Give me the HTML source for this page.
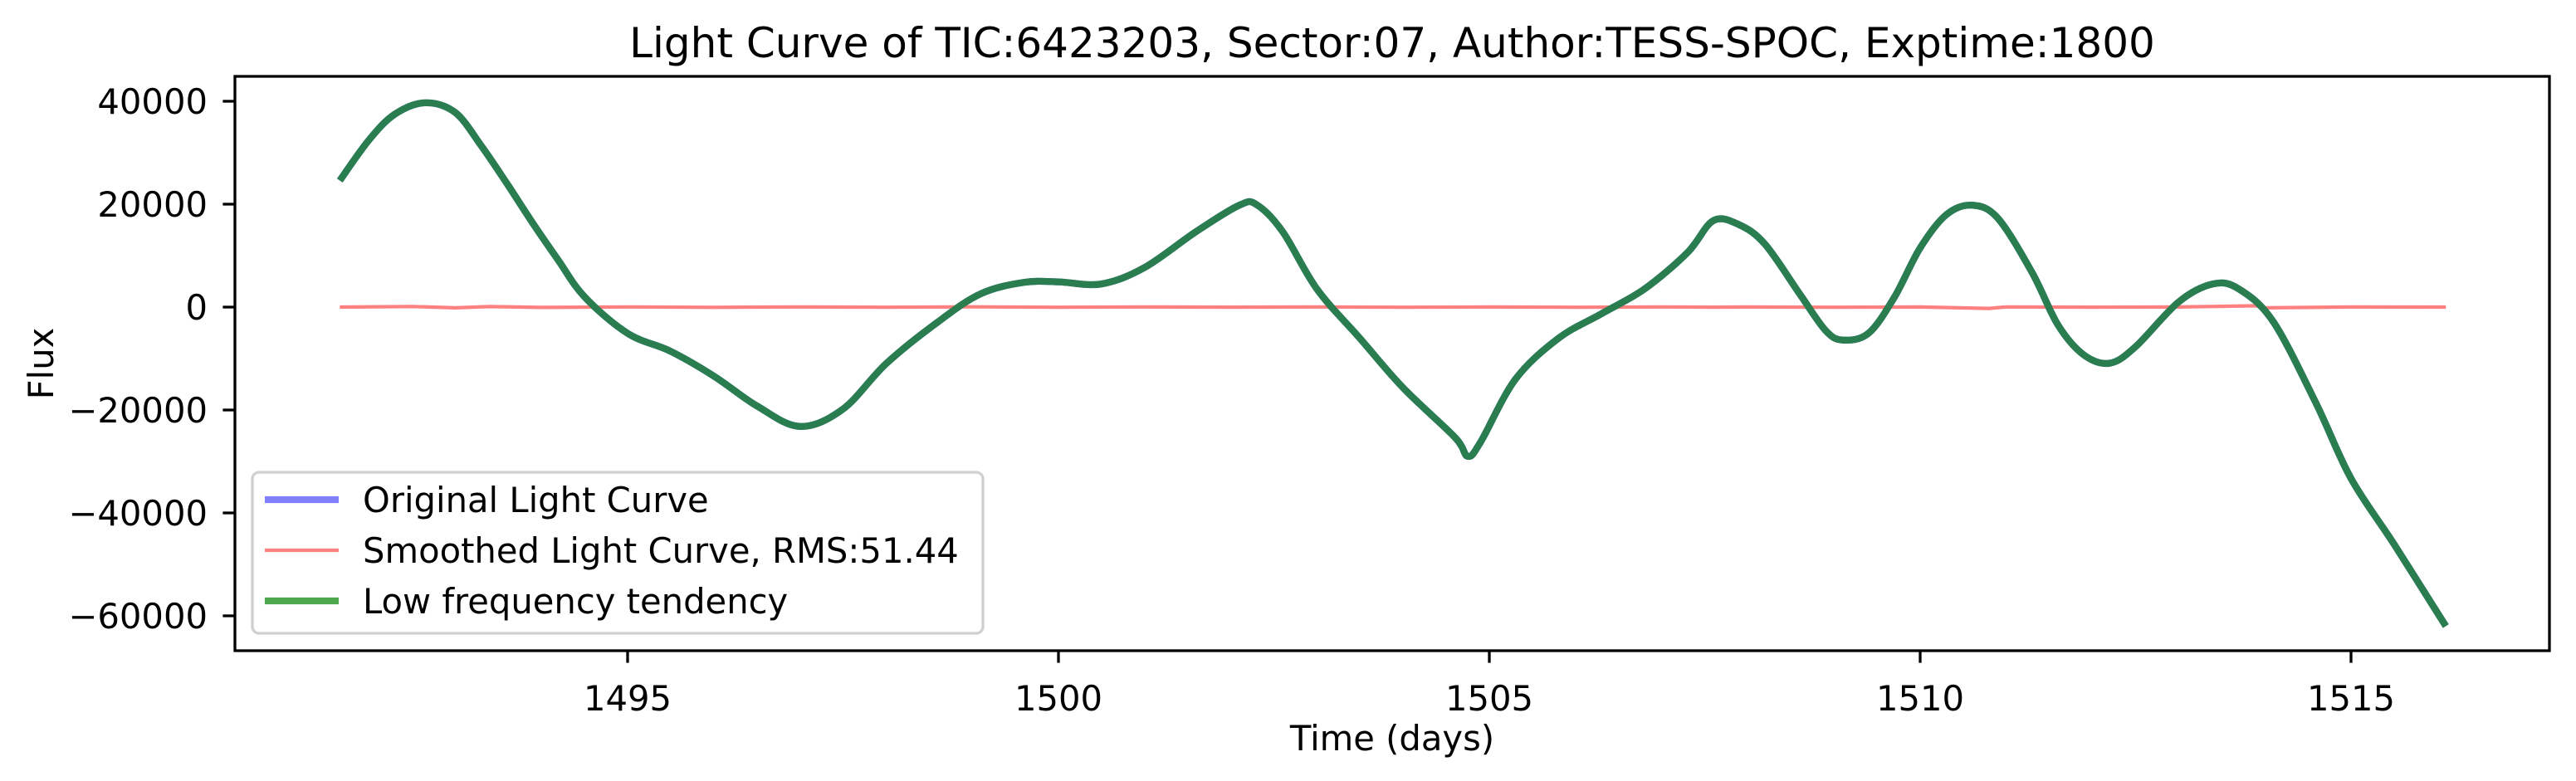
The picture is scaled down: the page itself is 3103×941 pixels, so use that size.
<!DOCTYPE html>
<html><head><meta charset="utf-8"><style>
html,body{margin:0;padding:0;background:#fff}
svg{display:block}
text{font-family:"DejaVu Sans","Liberation Sans",sans-serif;fill:#000}
</style></head><body>
<svg id="chart" width="3103" height="941" viewBox="0 0 3103 941" xmlns="http://www.w3.org/2000/svg">
<rect width="3103" height="941" fill="#fff"/>
<text x="1677" y="69" font-size="50" text-anchor="middle">Light Curve of TIC:6423203, Sector:07, Author:TESS-SPOC, Exptime:1800</text>
<g id="plot"></g>
<g id="xaxis"></g>
<g id="yaxis"></g>
<rect x="283" y="92" width="2788" height="692" fill="none" stroke="#000" stroke-width="3.3"/>
<text x="1677" y="904" font-size="41.7" text-anchor="middle">Time (days)</text>
<text x="0" y="0" font-size="41.7" text-anchor="middle" transform="translate(64,438) rotate(-90)">Flux</text>
<g>
<rect x="304" y="569" width="880" height="194" rx="8" fill="#fff" fill-opacity="0.8" stroke="#d0d0d0" stroke-width="3.3"/>
<line x1="319" y1="602" x2="408" y2="602" stroke="#8080ff" stroke-width="8.3"/>
<text x="437" y="617" font-size="41.7">Original Light Curve</text>
<line x1="319" y1="663" x2="408" y2="663" stroke="#ff8080" stroke-width="4.2"/>
<text x="437" y="678" font-size="41.7">Smoothed Light Curve, RMS:51.44</text>
<line x1="319" y1="724" x2="408" y2="724" stroke="#4ca64c" stroke-width="8.3"/>
<text x="437" y="739" font-size="41.7">Low frequency tendency</text>
</g>
</svg>
<script>
const xTicks = [1495, 1500, 1505, 1510, 1515];
const yTicks = [40000, 20000, 0, -20000, -40000, -60000];
const yTickLabels = ["40000", "20000", "0", "\u221220000", "\u221240000", "\u221260000"];
const trendTime = [1491.66,1492.0,1492.3,1492.65,1493.0,1493.3,1493.6,1493.9,1494.2,1494.5,1495.0,1495.5,1496.0,1496.5,1497.0,1497.5,1498.0,1498.6,1499.1,1499.6,1500.0,1500.5,1501.0,1501.6,1502.1,1502.3,1502.6,1503.0,1503.5,1504.0,1504.6,1504.75,1504.9,1505.3,1505.8,1506.3,1506.8,1507.3,1507.6,1507.9,1508.2,1508.6,1508.9,1509.1,1509.4,1509.7,1510.0,1510.3,1510.6,1510.9,1511.3,1511.6,1511.9,1512.2,1512.5,1513.0,1513.4,1513.7,1514.1,1514.6,1515.0,1515.5,1516.1];
const trendFlux = [24600,32500,37500,39700,37800,31400,24000,16300,9000,2000,-5100,-8600,-13400,-19200,-23200,-19800,-11000,-2900,2600,4800,4900,4500,7700,14700,19800,19900,14700,3500,-6100,-15700,-25300,-29000,-26200,-14100,-6100,-1300,3500,10600,16800,16000,12200,2600,-4500,-6400,-5100,1900,11500,17900,19800,17300,6700,-3500,-9300,-10900,-7700,1000,4500,3500,-2900,-18900,-33300,-46100,-62000];
const smoothTime = [1491.66,1492.5,1493.0,1493.4,1494.0,1495.0,1496.0,1497.0,1498.0,1499.0,1500.0,1501.0,1502.0,1503.0,1504.0,1505.0,1506.0,1507.0,1507.6,1508.0,1509.0,1510.0,1510.8,1511.0,1512.0,1513.0,1513.9,1514.0,1515.0,1516.1];
const smoothFlux = [0,120,-150,100,-60,40,-50,30,-40,50,-30,40,-20,30,-40,20,-30,40,-20,10,-30,20,-250,30,-20,10,250,-150,20,0];

const ns = "http://www.w3.org/2000/svg";
const X0 = 283, X1 = 3071, Y0 = 92, Y1 = 784;
function xScale(t){ return 756 + (t - 1495) * 103.8; }
function yScale(f){ return 370 - f * 124 / 20000; }
function mk(tag, attrs, parent){ const e = document.createElementNS(ns, tag); for (const k in attrs) e.setAttribute(k, attrs[k]); parent.appendChild(e); return e; }
function smoothPath(xs, ys){
  const p = xs.map((t,i)=>[xScale(t), yScale(ys[i])]);
  let d = 'M' + p[0][0].toFixed(1) + ',' + p[0][1].toFixed(1);
  for (let i = 0; i < p.length - 1; i++){
    const a = p[Math.max(0,i-1)], b = p[i], c = p[i+1], e = p[Math.min(p.length-1,i+2)];
    const k = 1/6;
    const c1 = [b[0] + (c[0]-a[0])*k, b[1] + (c[1]-a[1])*k];
    const c2 = [c[0] - (e[0]-b[0])*k, c[1] - (e[1]-b[1])*k];
    d += 'C' + c1[0].toFixed(1)+','+c1[1].toFixed(1)+' '+c2[0].toFixed(1)+','+c2[1].toFixed(1)+' '+c[0].toFixed(1)+','+c[1].toFixed(1);
  }
  return d;
}

const plot = document.getElementById('plot');
const blue = mk('path', {d: smoothPath(trendTime, trendFlux), fill:'none', stroke:'#8080ff', 'stroke-width':8.3, 'stroke-linejoin':'round'}, plot);


const red = mk('path', {d: smoothTime.map((t,i)=>(i?'L':'M')+xScale(t).toFixed(1)+','+yScale(smoothFlux[i]).toFixed(1)).join(''), fill:'none', stroke:'#ff8080', 'stroke-width':4.2}, plot);


const green = mk('path', {d: smoothPath(trendTime, trendFlux), fill:'none', stroke:'#2a7d4f', 'stroke-width':8.3, 'stroke-linejoin':'round'}, plot);



const xa = document.getElementById('xaxis');
xTicks.forEach(v => {
  const x = xScale(v);
  const tk = mk('line', {x1:x, x2:x, y1:Y1, y2:Y1+14.6, stroke:'#000', 'stroke-width':3.3}, xa);
  
  
  const lb = mk('text', {x:x, y:856, 'font-size':41.7, 'text-anchor':'middle'}, xa);
  lb.textContent = String(v);
  
  
});
const ya = document.getElementById('yaxis');
yTicks.forEach((v,i) => {
  const y = yScale(v);
  const tk = mk('line', {x1:X0-14.6, x2:X0, y1:y, y2:y, stroke:'#000', 'stroke-width':3.3}, ya);
  
  
  const lb = mk('text', {x:250, y:y+15, 'font-size':41.7, 'text-anchor':'end'}, ya);
  lb.textContent = yTickLabels[i];
  
  
});
</script>
</body></html>
